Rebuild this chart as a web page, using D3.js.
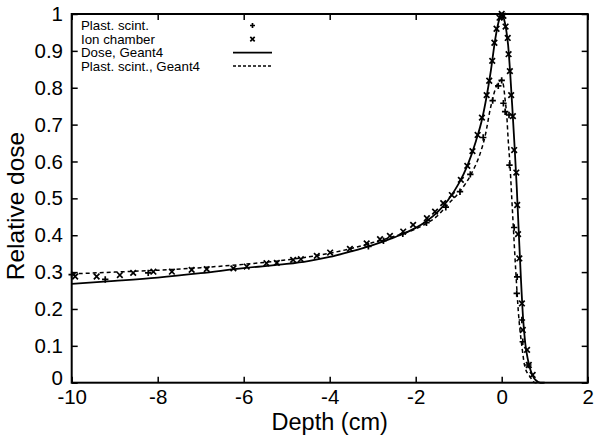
<!DOCTYPE html>
<html><head><meta charset="utf-8">
<script src="https://cdn.jsdelivr.net/npm/d3@7"></script>
<style>
html,body{margin:0;padding:0;background:#fff;}
svg{display:block;font-family:"Liberation Sans",Arial,Helvetica,sans-serif;}
</style></head>
<body><svg id="c" width="600" height="436"></svg>
<script>
// Tick values
const xTicks = [-10, -8, -6, -4, -2, 0, 2];
const yTicks = [0, 0.1, 0.2, 0.3, 0.4, 0.5, 0.6, 0.7, 0.8, 0.9, 1];

// Dose, Geant4 (solid)
const doseX = [-10,-9,-8,-7,-6,-5,-4.5,-4,-3.5,-3,-2.5,-2,-1.75,-1.5,-1.25,-1,-0.8,-0.6,-0.45,-0.35,-0.25,-0.15,-0.08,0,0.05,0.1,0.15,0.2,0.25,0.3,0.35,0.4,0.45,0.5,0.55,0.6,0.65,0.7,0.75,0.8,0.9,1.0];
const doseY = [0.268,0.276,0.285,0.297,0.311,0.322,0.330,0.341,0.356,0.373,0.394,0.420,0.438,0.462,0.495,0.540,0.588,0.655,0.718,0.777,0.848,0.932,0.975,1.0,0.988,0.96,0.915,0.835,0.74,0.64,0.53,0.40,0.275,0.17,0.105,0.068,0.042,0.025,0.013,0.006,0.0,0.0];

// Plast. scint., Geant4 (dashed)
const scintSimX = [-10,-9,-8,-7,-6,-5,-4.5,-4,-3.5,-3,-2.5,-2,-1.75,-1.5,-1.25,-1,-0.7,-0.5,-0.38,-0.27,-0.19,-0.12,-0.05,0,0.04,0.08,0.12,0.15,0.19,0.23,0.27,0.33,0.39,0.47,0.54,0.66,0.78,1.0];
const scintSimY = [0.295,0.300,0.305,0.312,0.321,0.333,0.341,0.351,0.364,0.380,0.397,0.417,0.432,0.452,0.484,0.515,0.568,0.622,0.672,0.74,0.78,0.805,0.818,0.821,0.807,0.767,0.721,0.66,0.595,0.51,0.423,0.297,0.188,0.098,0.043,0.016,0.0,0.0];

// Plast. scint. measurements (+)
const plastX = [-10,-9.22,-8.22,-3.1,-2.75,-2.3,-1.75,-1.3,-0.97,-0.73,-0.43,-0.21,-0.08,0,0.04,0.08,0.17,0.18,0.29,0.35,0.36,0.47,0.49,0.62];
const plastY = [0.293,0.280,0.298,0.370,0.385,0.404,0.434,0.476,0.518,0.565,0.665,0.765,0.805,0.82,0.758,0.735,0.726,0.59,0.421,0.242,0.287,0.17,0.111,0.048];

// Ion chamber measurements (x)
const ionX = [-9.92,-9.42,-8.88,-8.57,-8.10,-7.67,-7.21,-6.86,-6.24,-5.93,-5.47,-5.23,-4.85,-4.67,-4.30,-3.99,-3.53,-3.14,-2.83,-2.60,-2.29,-2.06,-1.74,-1.55,-1.36,-1.16,-0.95,-0.8,-0.68,-0.56,-0.46,-0.35,-0.29,-0.22,-0.17,-0.12,-0.05,0.0,0.04,0.09,0.14,0.16,0.19,0.22,0.26,0.29,0.34,0.36,0.38,0.41,0.47,0.49,0.59,0.63,0.72];
const ionY = [0.288,0.288,0.292,0.298,0.301,0.301,0.306,0.308,0.31,0.315,0.324,0.325,0.333,0.335,0.344,0.353,0.363,0.378,0.389,0.398,0.41,0.428,0.446,0.464,0.487,0.509,0.55,0.588,0.628,0.672,0.719,0.78,0.819,0.873,0.922,0.96,0.99,1.0,0.995,0.966,0.935,0.891,0.845,0.78,0.723,0.631,0.57,0.482,0.403,0.337,0.215,0.143,0.089,0.048,0.021];

const legendLabels = ["Plast. scint.", "Ion chamber", "Dose, Geant4", "Plast. scint., Geant4"];

const svg = d3.select("#c");
const L = 71.7, R = 587.7, T = 14, B = 382.7;
const x = d3.scaleLinear().domain([-10, 2]).range([L, R]);
const y = d3.scaleLinear().domain([0, 1]).range([B, T]);

// axes
const fmtY = d => d === 0 ? "0" : d === 1 ? "1" : d.toFixed(1);
const fmtX = d => String(d);
const gB = svg.append("g").attr("transform", `translate(0,${B})`)
  .call(d3.axisBottom(x).tickValues(xTicks).tickSizeInner(-6).tickSizeOuter(0).tickPadding(6.5).tickFormat(fmtX));
const gL = svg.append("g").attr("transform", `translate(${L},0)`)
  .call(d3.axisLeft(y).tickValues(yTicks).tickSizeInner(-6).tickSizeOuter(0).tickPadding(8.7).tickFormat(fmtY));
const gT = svg.append("g").attr("transform", `translate(0,${T})`)
  .call(d3.axisTop(x).tickValues(xTicks).tickSizeInner(-6).tickSizeOuter(0).tickFormat(""));
const gR = svg.append("g").attr("transform", `translate(${R},0)`)
  .call(d3.axisRight(y).tickValues(yTicks).tickSizeInner(-6).tickSizeOuter(0).tickFormat(""));
[gB, gL, gT, gR].forEach(g => {
  g.select(".domain").remove();
  g.selectAll(".tick line").attr("stroke", "#000").attr("stroke-width", 1.5);
  g.selectAll(".tick text").attr("fill", "#000").attr("font-size", 20.5).attr("font-family", "Liberation Sans, Arial, sans-serif");
});
// nudge the y "0" label up slightly so it clears the "-10" label
gL.selectAll(".tick").filter(d => d === 0).select("text").attr("dy", "0.1em");

// frame
svg.append("rect").attr("x", L).attr("y", T).attr("width", R - L).attr("height", B - T)
  .attr("fill", "none").attr("stroke", "#000").attr("stroke-width", 2);

// axis titles
svg.append("text").attr("x", (L + R) / 2).attr("y", 429.5).attr("text-anchor", "middle")
  .attr("font-size", 23.5).text("Depth (cm)");
svg.append("text").attr("transform", "translate(24,206) rotate(-90)").attr("text-anchor", "middle")
  .attr("font-size", 24.5).text("Relative dose");

// curves
const line = d3.line().x(d => x(d[0])).y(d => y(d[1])).curve(d3.curveMonotoneX);
svg.append("path").datum(doseX.map((v, i) => [v, doseY[i]]))
  .attr("d", line).attr("fill", "none").attr("stroke", "#000").attr("stroke-width", 1.8);
svg.append("path").datum(scintSimX.map((v, i) => [v, scintSimY[i]]))
  .attr("d", line).attr("fill", "none").attr("stroke", "#000").attr("stroke-width", 1.5).attr("stroke-dasharray", "4,3");

// markers
const plusPath = s => `M${-s},0H${s}M0,${-s}V${s}`;
const crossPath = s => `M${-s},${-s}L${s},${s}M${-s},${s}L${s},${-s}`;
svg.append("g").selectAll("path").data(plastX.map((v, i) => [v, plastY[i]])).join("path")
  .attr("transform", d => `translate(${x(d[0])},${y(d[1])})`)
  .attr("d", plusPath(3.2)).attr("stroke", "#000").attr("stroke-width", 1.7).attr("fill", "none");
svg.append("g").selectAll("path").data(ionX.map((v, i) => [v, ionY[i]])).join("path")
  .attr("transform", d => `translate(${x(d[0])},${y(d[1])})`)
  .attr("d", crossPath(2.8)).attr("stroke", "#000").attr("stroke-width", 1.7).attr("fill", "none");

// legend
const lg = svg.append("g");
const rowY = [30, 43.6, 57.1, 70.6];
legendLabels.forEach((t, i) => {
  lg.append("text").attr("x", 81).attr("y", rowY[i]).attr("font-size", 13.3).text(t);
});
const cy = rowY.map(v => v - 4.5);
lg.append("path").attr("transform", `translate(252.5,${cy[0]})`).attr("d", plusPath(2.5)).attr("stroke", "#000").attr("stroke-width", 1.7);
lg.append("path").attr("transform", `translate(252.5,${cy[1]})`).attr("d", crossPath(2.2)).attr("stroke", "#000").attr("stroke-width", 1.7);
lg.append("line").attr("x1", 233).attr("x2", 272).attr("y1", cy[2]).attr("y2", cy[2]).attr("stroke", "#000").attr("stroke-width", 1.8);
lg.append("line").attr("x1", 233).attr("x2", 272).attr("y1", cy[3]).attr("y2", cy[3]).attr("stroke", "#000").attr("stroke-width", 1.5).attr("stroke-dasharray", "3,2");
</script></body></html>
